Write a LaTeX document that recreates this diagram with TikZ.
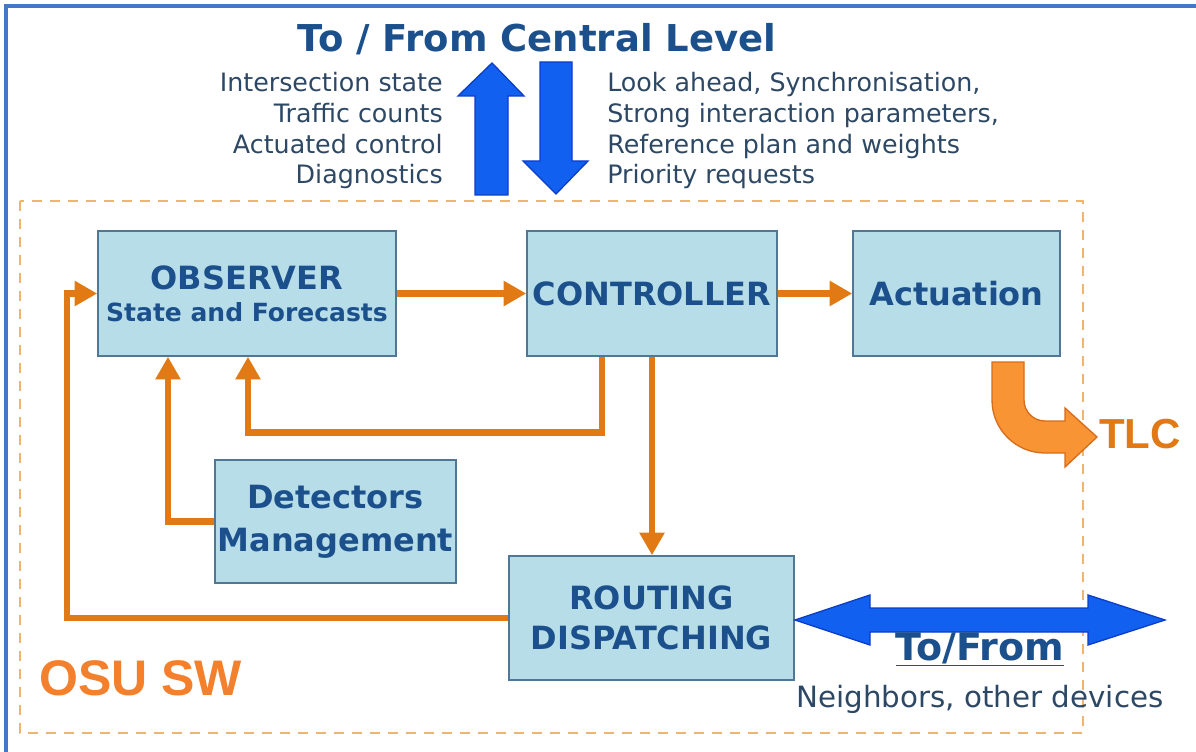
\documentclass[tikz,border=0pt]{standalone}
\usepackage{fontspec}
\setmainfont{DejaVu Sans}
\newfontfamily\arialfont{Liberation Sans}
\usetikzlibrary{arrows.meta,calc}

\definecolor{boxfill}{RGB}{183,222,232}
\definecolor{boxline}{RGB}{80,120,150}
\definecolor{boxtext}{RGB}{27,80,140}
\definecolor{smalltext}{RGB}{45,72,100}
\definecolor{flow}{RGB}{225,122,20}
\definecolor{osuorange}{RGB}{242,128,45}
\definecolor{tlcfill}{RGB}{248,148,52}
\definecolor{tlcline}{RGB}{215,108,28}
\definecolor{dashorange}{RGB}{238,180,112}
\definecolor{bigblue}{RGB}{18,96,240}
\definecolor{bigblueline}{RGB}{12,62,200}
\definecolor{frameblue}{RGB}{70,118,200}

\begin{document}
\begin{tikzpicture}[x=0.75pt,y=0.75pt,yscale=-1,xscale=1,
  blockbox/.style={draw=boxline, line width=1.1pt, fill=boxfill, text=boxtext,
    font=\bfseries\fontsize{24}{25}\selectfont, align=center, inner sep=0pt},
  flowline/.style={draw=flow, line width=5.2pt, -{Triangle[length=17pt,width=18pt]}},
  bigarrow/.style={fill=bigblue, draw=bigblueline, line width=1pt},
  toptext/.style={text=smalltext, font=\fontsize{19}{22}\selectfont, inner sep=0pt}]
\useasboundingbox (0,0) rectangle (1196,752);

%frame
\draw [frameblue, line width=3pt] (6,752) -- (6,6) -- (1196,6);
%OSU box
\draw [dashorange, line width=2pt, dash pattern=on 7.5pt off 6pt] (20,201) rectangle (1083,733);

%title and data to/from central level
\node [anchor=base, text=boxtext, font=\bfseries\fontsize{27.75}{30}\selectfont] (title) at (537,52) {To / From Central Level};
\foreach \txt [count=\i] in {Intersection state, Traffic counts, Actuated control, Diagnostics}
  \node [toptext, anchor=base east] (up\i) at (443,{61+30.7*\i}) {\txt};
\foreach \txt [count=\i] in {{Look ahead, Synchronisation,}, {Strong interaction parameters,}, {Reference plan and weights}, {Priority requests}}
  \node [toptext, anchor=base west] (down\i) at (607,{61+30.7*\i}) {\txt};

%Shape: up arrow
\draw [bigarrow] (475,195) -- (475,96) -- (458,96) -- (492,63) -- (524,96) -- (508,96) -- (508,195) -- cycle;
%Shape: down arrow
\draw [bigarrow] (540,62) -- (572,62) -- (572,161) -- (588,161) -- (556,194) -- (523,161) -- (540,161) -- cycle;

%blocks
\node [blockbox, minimum width=223.5pt, minimum height=93.75pt] (obs) at (247,293.5) {OBSERVER\\[-1pt]{\fontsize{18.75}{25}\selectfont State and Forecasts}};
\node [blockbox, minimum width=187.5pt, minimum height=93.75pt] (ctrl) at (652,293.5) {CONTROLLER};
\node [blockbox, minimum width=155.25pt, minimum height=93.75pt] (act) at (956.5,293.5) {Actuation};
\node [blockbox, minimum width=180.75pt, minimum height=92.25pt] (det) at (335.5,521.5) {Detectors\\[7pt]Management};
\node [blockbox, minimum width=213.75pt, minimum height=93pt] (rout) at (651.5,618) {ROUTING\\[5pt]DISPATCHING};

%connectors
\coordinate (back) at (67,293.5);
\draw [flowline] (obs.east) -- (ctrl.west);
\draw [flowline] (ctrl.east) -- (act.west);
\draw [flowline] ($(ctrl.south)+(-50,0)$) -- ++(0,76) -| ($(obs.south)+(1,0)$);
\draw [flowline] (ctrl.south) -- (ctrl.south |- rout.north);
\draw [flowline] (det.west) -| ($(obs.south)+(-79,0)$);
\draw [flowline] (rout.west) -| (back) -- (obs.west);

%Shape: bent arrow to TLC
\draw [fill=tlcfill, draw=tlcline, line width=1pt] (992,362) -- (992,400) .. controls (992,429.3) and (1015.7,453) .. (1045,453) -- (1065,453) -- (1065,467) -- (1097,437) -- (1065,408) -- (1065,421) -- (1045,421) .. controls (1033.4,421) and (1024,411.6) .. (1024,400) -- (1024,362) -- cycle;
\node [anchor=base west, text=flow, font=\arialfont\bfseries\fontsize{31.5}{34}\selectfont, inner sep=0pt] (tlc) at (1099,448) {TLC};

%Shape: double arrow to neighbours
\draw [bigarrow] (795,620) -- (870,595) -- (870,608) -- (1088,608) -- (1088,595) -- (1165,620) -- (1088,645) -- (1088,632) -- (870,632) -- (870,645) -- cycle;
\node [anchor=base, text=boxtext, font=\bfseries\fontsize{28.5}{30}\selectfont, inner sep=0pt] (tofrom) at (980,660) {\underline{To/From}};
\node [anchor=base, text=smalltext, font=\fontsize{22}{24}\selectfont, inner sep=0pt] (neigh) at (980,707) {Neighbors, other devices};

\node [anchor=base west, text=osuorange, font=\arialfont\bfseries\fontsize{37.5}{40}\selectfont, inner sep=0pt] (osu) at (39,695) {OSU SW};
\end{tikzpicture}
\end{document}
